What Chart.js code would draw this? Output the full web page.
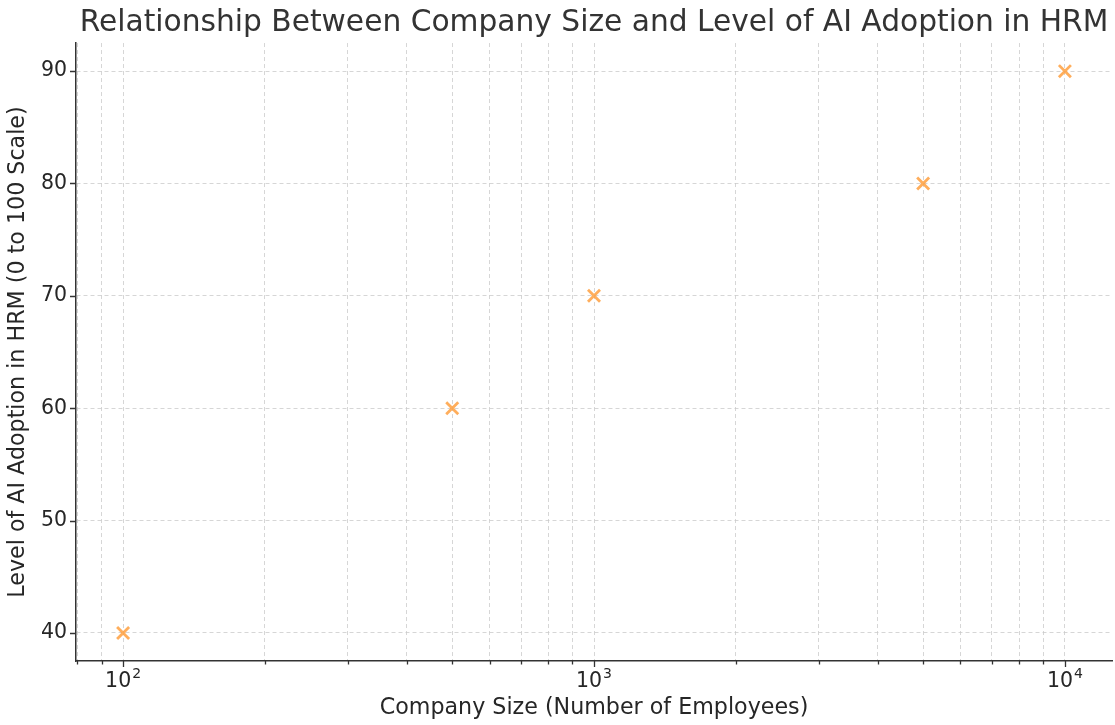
<!DOCTYPE html>
<html>
<head>
<meta charset="utf-8">
<script src="https://cdn.jsdelivr.net/npm/chart.js@4/dist/chart.umd.min.js"></script>
<style>
  html, body { margin: 0; padding: 0; background: #fff; }
  #wrap { width: 1115px; height: 725px; }
</style>
</head>
<body>
<div id="wrap"><canvas id="c" width="1115" height="725"></canvas></div>
<script>
// Company size (employees) and AI adoption level in HRM
const companySizes = [100, 500, 1000, 5000, 10000];
const adoptionLevels = [40, 60, 70, 80, 90];
const yTickValues = [40, 50, 60, 70, 80, 90];
const xMajorTicks = [100, 1000, 10000];
const xMinorTicks = [80, 90, 200, 300, 400, 500, 600, 700, 800, 900,
                     2000, 3000, 4000, 5000, 6000, 7000, 8000, 9000];

const X_MIN = Math.pow(10, 1.9);
const X_MAX = Math.pow(10, 4.1);

const FONT = "'DejaVu Sans', sans-serif";
const TEXT = '#262626';
const GRID = 'rgba(200,200,200,0.75)';

// Outward tick marks on the left and bottom axes (major longer than minor),
// and power-of-ten labels with a raised exponent under the major x ticks
const axisDecor = {
  id: 'axisDecor',
  afterDraw(chart) {
    const { ctx, chartArea: a, scales: { x, y } } = chart;
    ctx.save();
    ctx.strokeStyle = '#333';
    ctx.lineWidth = 1.3;
    ctx.beginPath();
    xMajorTicks.forEach(v => {
      const px = Math.round(x.getPixelForValue(v)) + 0.5;
      ctx.moveTo(px, a.bottom); ctx.lineTo(px, a.bottom + 6);
    });
    xMinorTicks.forEach(v => {
      const px = Math.round(x.getPixelForValue(v)) + 0.5;
      if (px < a.left) return;
      ctx.moveTo(px, a.bottom); ctx.lineTo(px, a.bottom + 3.5);
    });
    yTickValues.forEach(v => {
      const py = Math.round(y.getPixelForValue(v)) + 0.5;
      ctx.moveTo(a.left, py); ctx.lineTo(a.left - 6, py);
    });
    ctx.stroke();

    const baseFont = '20.5px ' + FONT;
    const expFont = '14px ' + FONT;
    ctx.fillStyle = TEXT;
    ctx.textBaseline = 'alphabetic';
    ctx.textAlign = 'left';
    xMajorTicks.forEach(v => {
      const exp = String(Math.round(Math.log10(v)));
      ctx.font = baseFont;
      const wb = ctx.measureText('10').width;
      ctx.font = expFont;
      const we = ctx.measureText(exp).width;
      const left = x.getPixelForValue(v) - (wb + we + 1) / 2;
      const base = a.bottom + 26;
      ctx.font = baseFont;
      ctx.fillText('10', left, base);
      ctx.font = expFont;
      ctx.fillText(exp, left + wb + 1, base - 9);
    });
    ctx.restore();
  }
};

new Chart(document.getElementById('c'), {
  type: 'scatter',
  data: {
    datasets: [{
      data: companySizes.map((s, i) => ({ x: s, y: adoptionLevels[i] })),
      pointStyle: 'crossRot',
      pointRadius: 8.5,
      pointHoverRadius: 8.5,
      borderWidth: 2.8,
      borderColor: 'rgba(255,160,64,0.85)',
      backgroundColor: 'rgba(255,160,64,0.85)'
    }]
  },
  plugins: [axisDecor],
  options: {
    responsive: false,
    animation: false,
    events: [],
    layout: { autoPadding: false, padding: { top: 0, right: 3, left: 0, bottom: 0 } },
    plugins: {
      legend: { display: false },
      tooltip: { enabled: false },
      title: {
        display: true,
        text: 'Relationship Between Company Size and Level of AI Adoption in HRM',
        color: '#333',
        font: { family: FONT, size: 29.7, weight: 'normal', lineHeight: 1.2 },
        padding: { top: 5, bottom: 2.4 },
        fullSize: false
      }
    },
    scales: {
      x: {
        type: 'logarithmic',
        min: X_MIN,
        max: X_MAX,
        afterBuildTicks(scale) {
          // minor + major positions, plus an unlabelled closing tick at the axis end
          scale.ticks = xMinorTicks.concat(xMajorTicks, [X_MAX])
            .sort((p, q) => p - q)
            .map(v => ({ value: v, major: xMajorTicks.includes(v) }));
        },
        afterFit(scale) {
          scale.height = 64;
          scale.paddingLeft = 0;
          scale.paddingRight = 0;
        },
        ticks: {
          autoSkip: false,
          maxRotation: 0,
          padding: 8,
          color: TEXT,
          font: { family: FONT, size: 20.5 },
          callback: () => ''
        },
        grid: {
          color: (c) => (c.tick && c.tick.value >= X_MAX * 0.999) ? 'rgba(0,0,0,0)' : GRID,
          lineWidth: 1,
          drawTicks: false
        },
        border: { display: true, color: '#333', width: 1.5, dash: [4, 3] },
        title: {
          display: true,
          text: 'Company Size (Number of Employees)',
          color: TEXT,
          font: { family: FONT, size: 22.2 },
          padding: { top: 0, bottom: 3 }
        }
      },
      y: {
        type: 'linear',
        min: 37.5,
        max: 92.5,
        afterBuildTicks(scale) {
          scale.ticks = yTickValues.map(v => ({ value: v }));
        },
        afterFit(scale) { scale.width = 76; },
        ticks: {
          padding: 9,
          color: TEXT,
          font: { family: FONT, size: 20.5 }
        },
        grid: { color: GRID, lineWidth: 1, drawTicks: false },
        border: { display: true, color: '#333', width: 1.5, dash: [4, 3] },
        title: {
          display: true,
          text: 'Level of AI Adoption in HRM (0 to 100 Scale)',
          color: TEXT,
          font: { family: FONT, size: 22.2 },
          padding: { top: 5, bottom: 0 }
        }
      }
    }
  }
});
</script>
</body>
</html>
